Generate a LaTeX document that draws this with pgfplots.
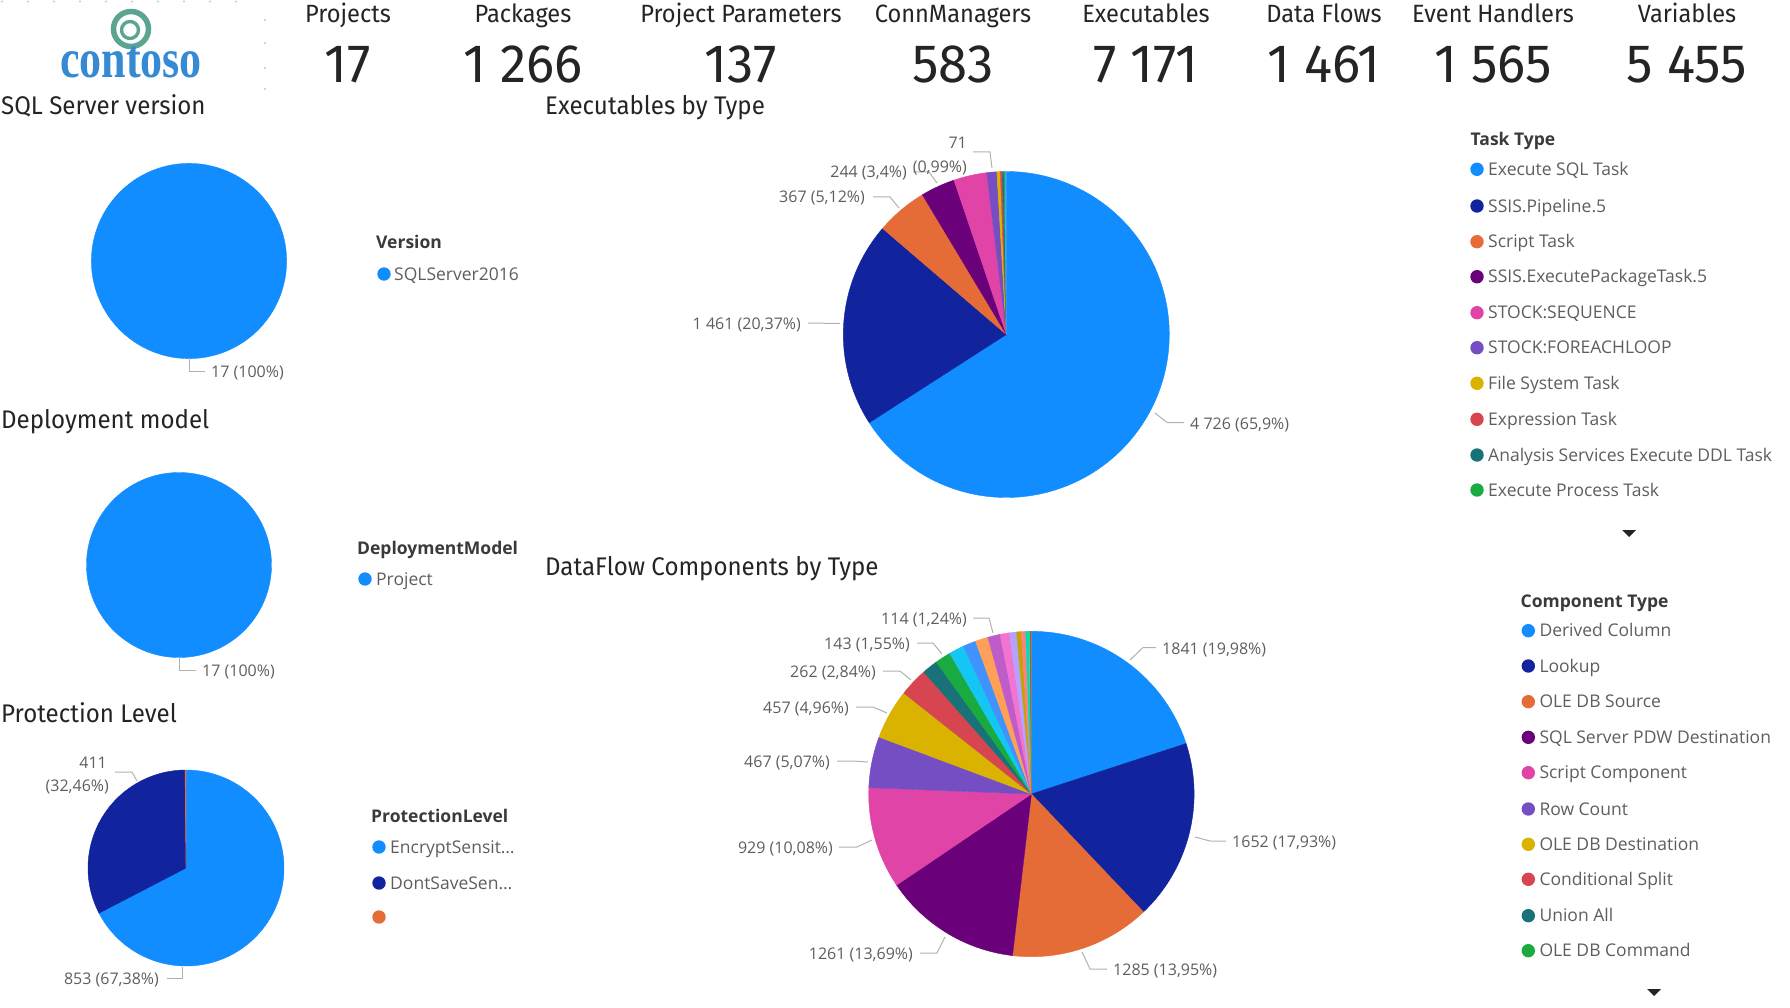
\documentclass[border=0pt]{standalone}
\usepackage{fontspec}
\usepackage{graphicx}
\usepackage{pgfplots}
\pgfplotsset{compat=1.18}
\setmainfont{Open Sans}
\newfontfamily\din[FakeStretch=0.945]{Fira Sans}
\newfontfamily\dinnum[FakeStretch=0.975]{Fira Sans}
\newfontfamily\logofont{Liberation Serif}

\definecolor{c1}{HTML}{118DFF}
\definecolor{c2}{HTML}{12239E}
\definecolor{c3}{HTML}{E66C37}
\definecolor{c4}{HTML}{6B007B}
\definecolor{c5}{HTML}{E044A7}
\definecolor{c6}{HTML}{744EC2}
\definecolor{c7}{HTML}{D9B300}
\definecolor{c8}{HTML}{D64550}
\definecolor{c9}{HTML}{197278}
\definecolor{c10}{HTML}{1AAB40}
\definecolor{c11}{HTML}{15C6F4}
\definecolor{c12}{HTML}{4092FF}
\definecolor{c13}{HTML}{FFA058}
\definecolor{c14}{HTML}{BE5DC9}
\definecolor{c15}{HTML}{F472D0}
\definecolor{c16}{HTML}{B5A1FF}
\definecolor{c17}{HTML}{C4A200}
\definecolor{c18}{HTML}{FF8080}
\definecolor{c19}{HTML}{00DBBC}
\definecolor{c20}{HTML}{5BD667}
\definecolor{c21}{HTML}{0091D5}
\definecolor{c22}{HTML}{4668C5}
\definecolor{c23}{HTML}{FF6300}
\definecolor{txt}{HTML}{252423}
\definecolor{lbl}{HTML}{605E5C}
\definecolor{leadc}{HTML}{B3B0AD}
\definecolor{logoblue}{HTML}{3689D3}
\definecolor{logogreen}{HTML}{5AA491}
\definecolor{dotc}{HTML}{C8C8C8}

% pie slices from a list value/colour, clockwise from 12 o'clock
\newcommand{\pieslices}[1]{%
  \gdef\pietotal{0}%
  \foreach \v/\col in {#1}{\pgfmathsetmacro\tmp{\pietotal+\v}\xdef\pietotal{\tmp}}%
  \gdef\pieacc{0}%
  \foreach \v/\col in {#1}{%
    \pgfmathsetmacro\aS{90-360*(\pieacc/\pietotal)}%
    \pgfmathsetmacro\na{\pieacc+\v}%
    \pgfmathsetmacro\aE{90-360*(\na/\pietotal)}%
    \xdef\pieacc{\na}%
    \pgfmathtruncatemacro\ns{max(3,(\aS-\aE)/1.5+2)}%
    \edef\doslice{\noexpand\addplot[fill=\col,draw=\col,line width=0.4pt,domain=\aE:\aS,samples=\ns] ({cos(x)},{sin(x)}) -- (0,0) -- cycle;}%
    \doslice
  }%
}

\pgfplotsset{pieaxis/.style={hide axis, clip=false, anchor=center,
  xmin=-1.05,xmax=1.05,ymin=-1.05,ymax=1.05}}

\begin{document}
\begin{tikzpicture}
% ---------- pies ----------
\begin{axis}[pieaxis, x=97.6pt, y=97.6pt, at={(189pt,-261pt)}]
  \pieslices{17/c1}
\end{axis}
\begin{axis}[pieaxis, x=92.5pt, y=92.5pt, at={(179pt,-565pt)}]
  \pieslices{17/c1}
\end{axis}
\begin{axis}[pieaxis, x=98pt, y=98pt, at={(186pt,-868pt)}]
  \pieslices{853/c1,411/c2,2/c3}
\end{axis}
\begin{axis}[pieaxis, x=163pt, y=163pt, at={(1006.3pt,-334.5pt)}]
  \pieslices{4726/c1,1461/c2,367/c3,244/c4,236/c5,71/c6,24/c7,15/c8,10/c9,8/c10,5/c11,4/c12}
\end{axis}
\begin{axis}[pieaxis, x=162.7pt, y=162.7pt, at={(1031.4pt,-794pt)}]
  \pieslices{1841/c1,1652/c2,1285/c3,1261/c4,929/c5,467/c6,457/c7,262/c8,145/c9,143/c10,140/c11,118/c12,116/c13,114/c14,85/c15,65/c16,42/c17,40/c18,30/c19,9/c20,6/c21,4/c22,3/c23}
\end{axis}

% ---------- annotations ----------
\begin{scope}[x=1pt,y=-1pt,
  lab/.style={font=\fontsize{16}{19}\selectfont, text=lbl, inner sep=0pt},
  leg/.style={font=\fontsize{17.5}{21}\selectfont, text=lbl, inner sep=0pt, anchor=base west},
  legt/.style={font=\fontsize{17.5}{21}\selectfont\bfseries, text=txt!90, inner sep=0pt, anchor=base west},
  kt/.style={font=\fontsize{25}{30}\din, text=txt, anchor=base, inner sep=0pt},
  kn/.style={font=\fontsize{54}{60}\dinnum, text=txt, anchor=base, inner sep=0pt},
  st/.style={font=\fontsize{25.5}{30}\din, text=txt, anchor=base west, inner sep=0pt},
  ld/.style={draw=leadc, line width=1pt}]
\path[use as bounding box] (0,0) rectangle (1790,1008);

% logo
\draw[logogreen, line width=5.5pt] (131,29) circle (17.5);
\draw[logogreen, line width=3.4pt] (130,30) circle (8.5);
\node[anchor=base, inner sep=0pt, text=logoblue] at (131,78)
  {\scalebox{0.8}[1]{\fontsize{55}{55}\logofont\bfseries contoso}};
\foreach \xx in {2,28,...,250} {\fill[dotc] (\xx,1.5) circle (1.1);}
\foreach \yy in {20,43,68,89} {\fill[dotc] (265,\yy) circle (1.1);}

% KPI cards
\foreach \cx/\ti/\num in {348/Projects/17, 523/Packages/1 266, 741/Project Parameters/137,
   953/ConnManagers/583, 1146/Executables/7 171, 1324/Data Flows/1 461,
   1493/Event Handlers/1 565, 1687/Variables/5 455}{
  \node[kt] at (\cx,22.5) {\ti};
  \node[kn] at (\cx,83) {\num};
}

% section titles
\node[st] at (1,115) {SQL Server version};
\node[st] at (545,115) {Executables by Type};
\node[st] at (1,428) {Deployment model};
\node[st] at (545,575) {DataFlow Components by Type};
\node[st] at (1,722.5) {Protection Level};

% left pies labels
\draw[ld] (189,358) -- (189,371) -- (205,371);
\node[lab, anchor=base west] at (211,377.5) {17 (100\%)};
\draw[ld] (179,657.5) -- (179,670) -- (196,670);
\node[lab, anchor=base west] at (202,676.5) {17 (100\%)};
\draw[ld] (167,978) -- (182,978) -- (182,967);
\node[lab, anchor=base east] at (159,984.5) {853 (67,38\%)};
\draw[ld] (115,772) -- (132,772) -- (137,781);
\node[lab, anchor=base east] at (107,768.5) {411};
\node[lab, anchor=base east] at (109,791.5) {(32,46\%)};

% left legends
\node[legt] at (376,249) {Version};
\fill[c1] (384,274) circle (6.7);
\node[leg] at (394,280) {SQLServer2016};
\node[legt] at (357,554) {DeploymentModel};
\fill[c1] (365,579) circle (6.7);
\node[leg] at (376,585) {Project};
\node[legt] at (371,822) {ProtectionLevel};
\fill[c1] (379,847) circle (6.7);
\node[leg] at (390,853) {EncryptSensit…};
\fill[c2] (379,883) circle (6.7);
\node[leg] at (390,889) {DontSaveSen…};
\fill[c3] (379,917) circle (6.7);

% executables labels
\draw[ld] (1155,413) -- (1167,422.5) -- (1184,422.5);
\node[lab, anchor=base west] at (1190,429) {4 726 (65,9\%)};
\draw[ld] (808,323) -- (840,323.5);
\node[lab, anchor=base east] at (801,329) {1 461 (20,37\%)};
\draw[ld] (873,197) -- (890,197) -- (899,208);
\node[lab, anchor=base east] at (865,203) {367 (5,12\%)};
\draw[ld] (913,172) -- (929,172) -- (937,183);
\node[lab, anchor=base east] at (907,178) {244 (3,4\%)};
\draw[ld] (973,152) -- (990,152) -- (992,168);
\node[lab, anchor=base east] at (967,149) {71};
\node[lab, anchor=base east] at (967,173) {(0,99\%)};

% dataflow labels
\draw[ld] (1130,660) -- (1143,647.5) -- (1156,647.5);
\node[lab, anchor=base west] at (1162,654) {1841 (19,98\%)};
\draw[ld] (1195,837) -- (1210,841) -- (1226,841);
\node[lab, anchor=base west] at (1232,847) {1652 (17,93\%)};
\draw[ld] (1082,952) -- (1090,969) -- (1107,969);
\node[lab, anchor=base west] at (1113,975) {1285 (13,95\%)};
\draw[ld] (920,953) -- (937,953) -- (945,937);
\node[lab, anchor=base east] at (913,959) {1261 (13,69\%)};
\draw[ld] (839,847) -- (857,847) -- (872,840);
\node[lab, anchor=base east] at (833,853) {929 (10,08\%)};
\draw[ld] (837,761) -- (853,761) -- (868,762);
\node[lab, anchor=base east] at (830,767) {467 (5,07\%)};
\draw[ld] (856,707) -- (873,707) -- (887,713);
\node[lab, anchor=base east] at (849,713) {457 (4,96\%)};
\draw[ld] (883,671) -- (900,671) -- (911,680);
\node[lab, anchor=base east] at (876,677) {262 (2,84\%)};
\draw[ld] (917,643) -- (933,643) -- (942,654);
\node[lab, anchor=base east] at (910,649) {143 (1,55\%)};
\draw[ld] (973,618) -- (989,618) -- (993,633);
\node[lab, anchor=base east] at (967,624) {114 (1,24\%)};

% task type legend
\node[legt] at (1470.5,146) {Task Type};
\foreach \yy/\col/\tt in {169.3/c1/Execute SQL Task, 206/c2/SSIS.Pipeline.5, 241.7/c3/Script Task,
   276.7/c4/SSIS.ExecutePackageTask.5, 312.7/c5/STOCK:SEQUENCE, 347.7/c6/STOCK:FOREACHLOOP,
   383.3/c7/File System Task, 419.3/c8/Expression Task, 455/c9/Analysis Services Execute DDL Task,
   490/c10/Execute Process Task}{
  \fill[\col] (1477,\yy) circle (6.7);
  \node[leg] at (1488,\yy+6.25) {\tt};
}
\fill[txt] (1622,530) -- (1636,530) -- (1629,537) -- cycle;

% component type legend
\node[legt] at (1520.5,607.5) {Component Type};
\foreach \yy/\col/\tt in {630.7/c1/Derived Column, 666/c2/Lookup, 701.7/c3/OLE DB Source,
   737.3/c4/SQL Server PDW Destination, 772.7/c5/Script Component, 809/c6/Row Count,
   844.3/c7/OLE DB Destination, 879.3/c8/Conditional Split, 915.7/c9/Union All,
   950.7/c10/OLE DB Command}{
  \fill[\col] (1528.3,\yy) circle (6.7);
  \node[leg] at (1539.3,\yy+6.25) {\tt};
}
\fill[txt] (1647,989) -- (1661,989) -- (1654,996) -- cycle;
\end{scope}
\end{tikzpicture}
\end{document}
